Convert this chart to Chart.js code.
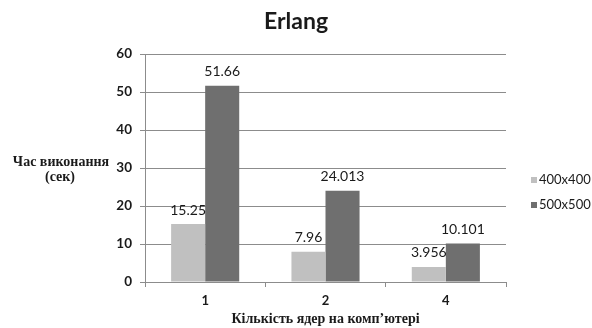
<!DOCTYPE html>
<html>
<head>
<meta charset="utf-8">
<script src="https://cdn.jsdelivr.net/npm/chart.js@4"></script>
<style>
  html, body { margin: 0; padding: 0; background: #fff; }
</style>
</head>
<body>
<canvas id="chart" width="592" height="328"></canvas>
<script>
// chart data
const cores = ['1', '2', '4'];
const time400 = [15.25, 7.96, 3.956];
const time500 = [51.66, 24.013, 10.101];
const labels400 = ['15.25', '7.96', '3.956'];
const labels500 = ['51.66', '24.013', '10.101'];
const seriesNames = ['400x400', '500x500'];
const yTicks = [0, 10, 20, 30, 40, 50, 60];

const textColor = '#1a1a1a';
const gridColor = '#8c8c8c';

// value labels over the bars
const barLabels = {
    id: 'barLabels',
    afterDatasetsDraw(chart) {
        const ctx = chart.ctx;
        ctx.save();
        ctx.font = '14px Lato';
        ctx.fillStyle = textColor;
        ctx.textAlign = 'center';
        ctx.textBaseline = 'middle';
        chart.data.datasets.forEach((ds, i) => {
            const meta = chart.getDatasetMeta(i);
            meta.data.forEach((bar, j) => {
                ctx.fillText(ds.valueLabels[j], bar.x, bar.y - 14);
            });
        });
        ctx.restore();
    }
};

// horizontal y axis title on the left
const yTitle = {
    id: 'yTitle',
    afterDraw(chart) {
        const ctx = chart.ctx;
        ctx.save();
        ctx.font = 'bold 14px "Liberation Serif"';
        ctx.fillStyle = textColor;
        ctx.textAlign = 'center';
        ctx.textBaseline = 'middle';
        ctx.fillText('Час виконання', 61, 162);
        ctx.fillText('(сек)', 60, 177);
        ctx.restore();
    }
};

// legend at the right
const sideLegend = {
    id: 'sideLegend',
    afterDraw(chart) {
        const ctx = chart.ctx;
        ctx.save();
        ctx.font = '13px Lato';
        ctx.textBaseline = 'middle';
        chart.data.datasets.forEach((ds, i) => {
            const y = 180 + i * 25;
            ctx.fillStyle = ds.backgroundColor;
            ctx.fillRect(531, y - 3, 6, 6);
            ctx.fillStyle = textColor;
            ctx.fillText(ds.label, 539, y);
        });
        ctx.restore();
    }
};

new Chart(document.getElementById('chart'), {
    type: 'bar',
    data: {
        labels: cores,
        datasets: [{
            label: seriesNames[0],
            data: time400,
            valueLabels: labels400,
            backgroundColor: '#c0c0c0',
            categoryPercentage: 0.566,
            barPercentage: 1
        }, {
            label: seriesNames[1],
            data: time500,
            valueLabels: labels500,
            backgroundColor: '#6f6f6f',
            categoryPercentage: 0.566,
            barPercentage: 1
        }]
    },
    options: {
        responsive: false,
        animation: false,
        layout: { padding: 0 },
        plugins: {
            legend: { display: false },
            tooltip: { enabled: false },
            title: {
                display: true,
                text: 'Erlang',
                color: textColor,
                font: { family: 'Lato', size: 23, weight: 'bold', lineHeight: 1.2 },
                padding: { top: 8.2, bottom: 18.2 }
            }
        },
        scales: {
            x: {
                afterFit: (scale) => { scale.height = 46; },
                grid: { drawOnChartArea: false, drawTicks: true, tickLength: 5, color: gridColor },
                border: { color: gridColor },
                ticks: { color: textColor, padding: 6, font: { family: 'Lato', size: 13, weight: 'bold' } },
                title: {
                    display: true,
                    text: 'Кількість ядер на комп’ютері',
                    color: textColor,
                    padding: 0,
                    font: { family: 'Liberation Serif', size: 14, weight: 'bold' }
                }
            },
            y: {
                min: 0,
                max: 60,
                afterFit: (scale) => { scale.width = 145; },
                afterBuildTicks: (scale) => { scale.ticks = yTicks.map(v => ({ value: v })); },
                grid: { color: gridColor, tickLength: 5 },
                border: { color: gridColor },
                ticks: { color: textColor, padding: 8, font: { family: 'Lato', size: 13.5, weight: 'bold' } }
            },
            // empty axis that keeps room for the legend on the right
            side: {
                type: 'linear',
                position: 'right',
                afterFit: (scale) => { scale.width = 86; },
                grid: { display: false },
                border: { display: false },
                ticks: { display: false }
            }
        }
    },
    plugins: [barLabels, yTitle, sideLegend]
});
</script>
</body>
</html>
